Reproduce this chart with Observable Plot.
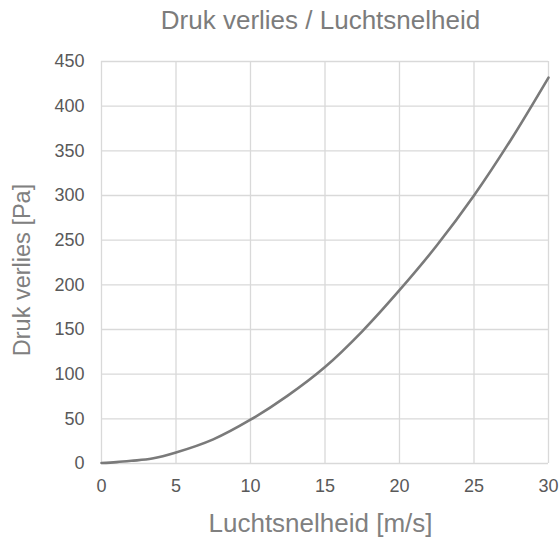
<!DOCTYPE html>
<html>
<head>
<meta charset="utf-8">
<script src="https://cdn.jsdelivr.net/npm/d3@7"></script>
<script src="https://cdn.jsdelivr.net/npm/@observablehq/plot@0.6"></script>
<style>
  html, body { margin: 0; padding: 0; background: #fff; }
  #chart { width: 560px; height: 541px; }
</style>
</head>
<body>
<div id="chart"></div>
<script>
const title = "Druk verlies / Luchtsnelheid";
const xLabel = "Luchtsnelheid [m/s]";
const yLabel = "Druk verlies [Pa]";
const velocity = [0, 1, 2, 3.4, 5, 7.5, 10, 12.5, 15, 17.5, 20, 22.5, 25, 27.5, 30];
const pressure = [0.5, 1.5, 3, 5.5, 12.3, 27, 49, 76, 108, 148, 194, 244, 300, 363, 432];
const xTicks = [0, 5, 10, 15, 20, 25, 30];
const yTicks = [0, 50, 100, 150, 200, 250, 300, 350, 400, 450];

const data = velocity.map((v, i) => ({v, p: pressure[i]}));

const font = "'Liberation Sans', Arial, sans-serif";

const chart = Plot.plot({
  width: 560,
  height: 541,
  marginLeft: 101,
  marginRight: 12,
  marginTop: 61,
  marginBottom: 78,
  style: {fontFamily: font, fontSize: "18px", color: "#595959", background: "#fff"},
  x: {domain: [0, 30]},
  y: {domain: [0, 450]},
  marks: [
    Plot.ruleX(xTicks, {x: d => d, stroke: "#d9d9d9", strokeWidth: 1.3}),
    Plot.ruleY(yTicks, {y: d => d, stroke: "#d9d9d9", strokeWidth: 1.3}),
    Plot.axisX({ticks: xTicks, tickSize: 0, tickPadding: 16, label: null, fontSize: 18, tickFormat: d => String(d)}),
    Plot.axisY({ticks: yTicks, tickSize: 0, tickPadding: 17, label: null, fontSize: 18, tickFormat: d => String(d)}),
    Plot.line(data, {x: "v", y: "p", curve: "catmull-rom", stroke: "#7a7a7a", strokeWidth: 2.6}),
    Plot.text([title], {text: d => d, frameAnchor: "top", dx: -4.5, dy: -40.5, fontSize: 26, fill: "#7c7c7c", lineAnchor: "middle"}),
    Plot.text([xLabel], {text: d => d, frameAnchor: "bottom", dx: -4.5, dy: 60, fontSize: 26, fill: "#808080", lineAnchor: "middle"}),
    Plot.text([yLabel], {text: d => d, frameAnchor: "left", textAnchor: "middle", dx: -79, dy: 7.5, rotate: -90, fontSize: 23.5, fill: "#808080", lineAnchor: "middle"})
  ]
});
document.getElementById("chart").appendChild(chart);
</script>
</body>
</html>
